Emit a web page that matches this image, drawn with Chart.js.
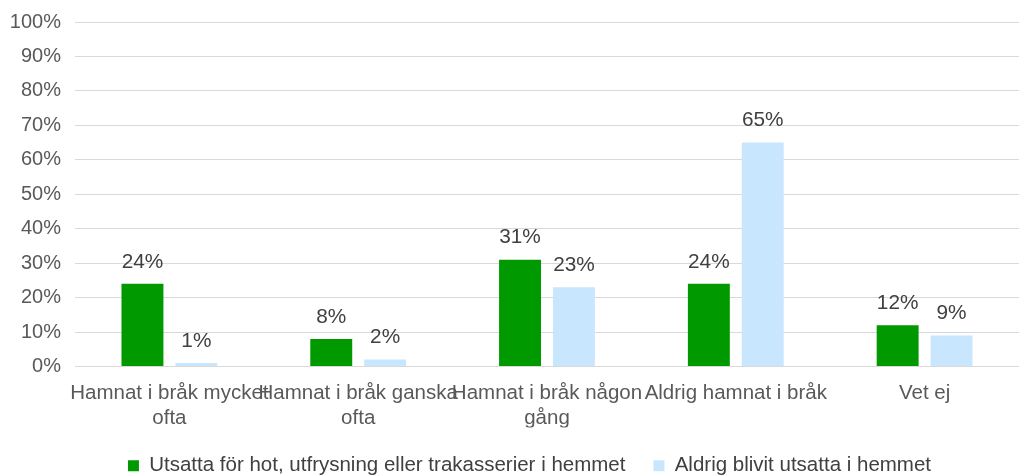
<!DOCTYPE html>
<html>
<head>
<meta charset="utf-8">
<script src="https://cdn.jsdelivr.net/npm/chart.js@4.4.0/dist/chart.umd.min.js"></script>
<style>
  html, body { margin: 0; padding: 0; background: #fff; }
  #wrap { width: 1019px; height: 476px; }
</style>
</head>
<body>
<div id="wrap"><canvas id="c" width="1019" height="476"></canvas></div>
<script>
// Category labels (split lines as in the original)
const CATEGORIES = [
  ["Hamnat i bråk mycket", "ofta"],
  ["Hamnat i bråk ganska", "ofta"],
  ["Hamnat i bråk någon", "gång"],
  ["Aldrig hamnat i bråk"],
  ["Vet ej"],
];
const SERIES_NAMES = [
  "Utsatta för hot, utfrysning eller trakasserier i hemmet",
  "Aldrig blivit utsatta i hemmet",
];
const UTSATTA = [24, 8, 31, 24, 12];
const ALDRIG = [1, 2, 23, 65, 9];
const Y_TICKS = [0, 10, 20, 30, 40, 50, 60, 70, 80, 90, 100];

const FONT = "'Liberation Sans', Arial, sans-serif";

// draws "24%" above each bar
const valueLabels = {
  id: "valueLabels",
  afterDatasetsDraw(chart) {
    const ctx = chart.ctx;
    ctx.save();
    ctx.font = `20.8px ${FONT}`;
    ctx.fillStyle = "#404040";
    ctx.textAlign = "center";
    ctx.textBaseline = "middle";
    chart.data.datasets.forEach((ds, i) => {
      chart.getDatasetMeta(i).data.forEach((bar, j) => {
        ctx.fillText(`${ds.data[j]}%`, bar.x, bar.y - 22);
      });
    });
    ctx.restore();
  },
};

// the original legend sits a bit right of centre
const legendShift = {
  id: "legendShift",
  afterLayout(chart) {
    chart.legend.left += 40;
  },
};

new Chart(document.getElementById("c"), {
  type: "bar",
  data: {
    labels: CATEGORIES,
    datasets: [
      { label: SERIES_NAMES[0], data: UTSATTA, backgroundColor: "#009900" },
      { label: SERIES_NAMES[1], data: ALDRIG, backgroundColor: "#c9e6ff" },
    ],
  },
  options: {
    responsive: false,
    animation: false,
    layout: { padding: { top: 22, right: 0, left: 0, bottom: -10 } },
    datasets: {
      bar: { categoryPercentage: 0.571, barPercentage: 0.778 },
    },
    plugins: {
      legend: {
        position: "bottom",
        labels: {
          font: { family: FONT, size: 20.5 },
          color: "#404040",
          boxWidth: 11,
          boxHeight: 11,
          padding: 28,
        },
      },
      tooltip: { enabled: false },
    },
    scales: {
      x: {
        grid: { display: false, drawTicks: false },
        border: { color: "#d9d9d9" },
        afterFit: (axis) => { axis.height = 61; },
        ticks: {
          font: { family: FONT, size: 20.5 },
          color: "#595959",
          maxRotation: 0,
          minRotation: 0,
          autoSkip: false,
          padding: 15,
        },
      },
      y: {
        min: 0,
        max: 100,
        afterFit: (axis) => {
          axis.width = 75;
          axis.paddingTop = 0;
          axis.paddingBottom = 0;
        },
        afterBuildTicks: (axis) => { axis.ticks = Y_TICKS.map((v) => ({ value: v })); },
        grid: { color: "#d9d9d9", drawTicks: false },
        border: { display: false },
        ticks: {
          font: { family: FONT, size: 20 },
          color: "#595959",
          padding: 14,
          callback: (v) => `${v}%`,
        },
      },
    },
  },
  plugins: [valueLabels, legendShift],
});
</script>
</body>
</html>
